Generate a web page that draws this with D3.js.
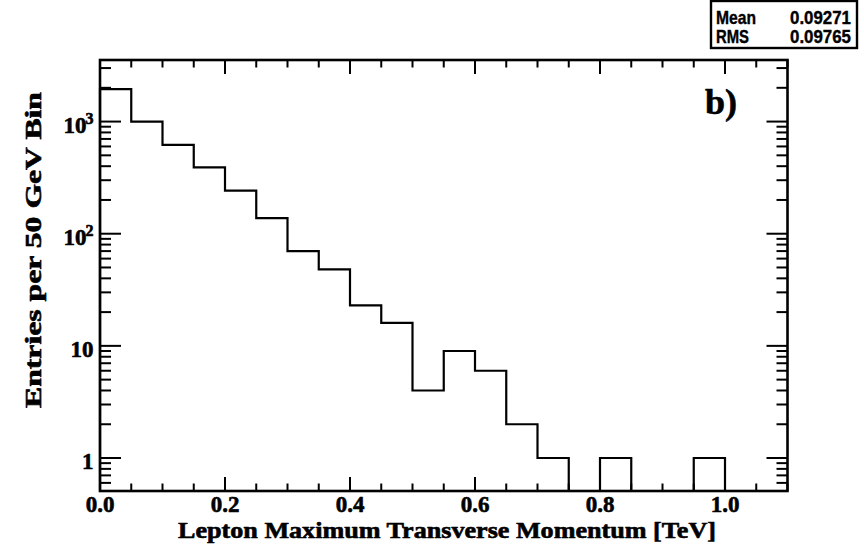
<!DOCTYPE html>
<html>
<head>
<meta charset="utf-8">
<script src="https://cdn.jsdelivr.net/npm/d3@7"></script>
<style>
  html, body { margin: 0; padding: 0; background: #fff; }
  svg { display: block; }
</style>
</head>
<body>
<svg id="chart" width="864" height="548"></svg>
<script>
// ---- data ----
const binEdges = [0.00, 0.05, 0.10, 0.15, 0.20, 0.25, 0.30, 0.35, 0.40, 0.45, 0.50,
                  0.55, 0.60, 0.65, 0.70, 0.75, 0.80, 0.85, 0.90, 0.95, 1.00, 1.05, 1.10];
const binCounts = [1950, 1000, 620, 390, 242, 138, 70, 48, 23, 16, 4,
                   9, 6, 2, 1, 0, 1, 0, 0, 1, 0, 0];
const xTickValues = [0.0, 0.2, 0.4, 0.6, 0.8, 1.0];
const xTickLabels = ["0.0", "0.2", "0.4", "0.6", "0.8", "1.0"];
const yTickValues = [1, 10, 100, 1000];
const yTickBase = ["1", "10", "10", "10"];
const yTickExp = ["", "", "2", "3"];
const statNames = ["Mean", "RMS"];
const statValues = ["0.09271", "0.09765"];
const xTitle = "Lepton Maximum Transverse Momentum [TeV]";
const yTitle = "Entries per 50 GeV Bin";
const panelLabel = "b)";

// ---- layout ----
const L = 100, R = 787.5, T = 60, B = 491;
const svg = d3.select("#chart");
const x = d3.scaleLinear().domain([0, 1.1]).range([L, R]);
const y = d3.scaleLog().domain([0.508, 3540]).range([B, T]);
const serif = "'Liberation Serif','Times New Roman',Times,serif";
const sans = "'Liberation Sans',Arial,Helvetica,sans-serif";

// ---- histogram ----
let pts = [[x(binEdges[0]), B]];
binCounts.forEach((c, i) => {
  const yy = c > 0 ? y(c) : B;
  pts.push([x(binEdges[i]), yy]);
  pts.push([x(binEdges[i + 1]), yy]);
});
pts.push([x(binEdges[binEdges.length - 1]), B]);
svg.append("path")
  .attr("d", d3.line()(pts))
  .attr("fill", "none")
  .attr("stroke", "#000")
  .attr("stroke-width", 2.2)
  .attr("stroke-linejoin", "miter");

// ---- ticks ----
const g = svg.append("g").attr("stroke", "#000").attr("stroke-width", 2);
const xMinor = d3.range(0, 1.1001, 0.05);
xMinor.forEach(v => {
  const isMajor = Math.abs(v / 0.2 - Math.round(v / 0.2)) < 1e-6;
  const len = isMajor ? 14 : 7.5;
  const px = x(v);
  g.append("line").attr("x1", px).attr("x2", px).attr("y1", B).attr("y2", B - len);
  g.append("line").attr("x1", px).attr("x2", px).attr("y1", T).attr("y2", T + len);
});
const yMinorVals = [];
[0.1, 1, 10, 100, 1000].forEach(d => {
  for (let k = 1; k <= 9; k++) {
    const v = k * d;
    if (v >= y.domain()[0] && v <= y.domain()[1]) yMinorVals.push(v);
  }
});
yMinorVals.forEach(v => {
  const isMajor = Math.abs(Math.log10(v) - Math.round(Math.log10(v))) < 1e-9;
  const len = isMajor ? 21 : 11;
  const py = y(v);
  g.append("line").attr("x1", L).attr("x2", L + len).attr("y1", py).attr("y2", py);
  g.append("line").attr("x1", R).attr("x2", R - len).attr("y1", py).attr("y2", py);
});

// ---- frame ----
svg.append("rect")
  .attr("x", L).attr("y", T).attr("width", R - L).attr("height", B - T)
  .attr("fill", "none").attr("stroke", "#000").attr("stroke-width", 2.6);

// heavy serif text helper
function heavy(sel) {
  return sel.attr("font-family", serif).attr("font-weight", "bold")
    .attr("fill", "#000").attr("stroke", "#000").attr("stroke-width", 0.6)
    .attr("stroke-linejoin", "round");
}

// ---- tick labels ----
xTickValues.forEach((v, i) => {
  heavy(svg.append("text"))
    .attr("x", x(v)).attr("y", 512)
    .attr("text-anchor", "middle")
    .attr("font-size", 23)
    .text(xTickLabels[i]);
});
yTickValues.forEach((v, i) => {
  const t = heavy(svg.append("text"))
    .attr("x", 93.5).attr("y", y(v) + 11)
    .attr("text-anchor", "end")
    .attr("font-size", 23);
  t.append("tspan").text(yTickBase[i]);
  if (yTickExp[i]) {
    t.append("tspan").attr("dy", -9).attr("dx", -1).attr("font-size", 16).text(yTickExp[i]);
  }
});

// ---- titles ----
heavy(svg.append("text"))
  .attr("x", 447).attr("y", 538)
  .attr("text-anchor", "middle")
  .attr("font-size", 22.5)
  .attr("textLength", 538).attr("lengthAdjust", "spacingAndGlyphs")
  .text(xTitle);
heavy(svg.append("text"))
  .attr("transform", "translate(41,250) rotate(-90)")
  .attr("text-anchor", "middle")
  .attr("font-size", 23)
  .attr("textLength", 316).attr("lengthAdjust", "spacingAndGlyphs")
  .text(yTitle);
heavy(svg.append("text"))
  .attr("x", 705).attr("y", 114)
  .attr("font-size", 36)
  .text(panelLabel);

// ---- stats box ----
const bx = 711, by = 1, bw = 146, bh = 47;
svg.append("rect").attr("x", bx).attr("y", by).attr("width", bw).attr("height", bh)
  .attr("fill", "#fff").attr("stroke", "#000").attr("stroke-width", 2.4);
statNames.forEach((n, i) => {
  const yy = by + 23 + i * 19;
  svg.append("text").attr("x", bx + 5).attr("y", yy)
    .attr("font-family", sans).attr("font-weight", "bold").attr("font-size", 19)
    .attr("stroke", "#000").attr("stroke-width", 0.4)
    .attr("textLength", n === "Mean" ? 40 : 33).attr("lengthAdjust", "spacingAndGlyphs")
    .text(n);
  svg.append("text").attr("x", bx + bw - 6).attr("y", yy)
    .attr("text-anchor", "end")
    .attr("font-family", sans).attr("font-weight", "bold").attr("font-size", 19)
    .attr("stroke", "#000").attr("stroke-width", 0.4)
    .attr("textLength", 61).attr("lengthAdjust", "spacingAndGlyphs")
    .text(statValues[i]);
});
</script>
</body>
</html>
